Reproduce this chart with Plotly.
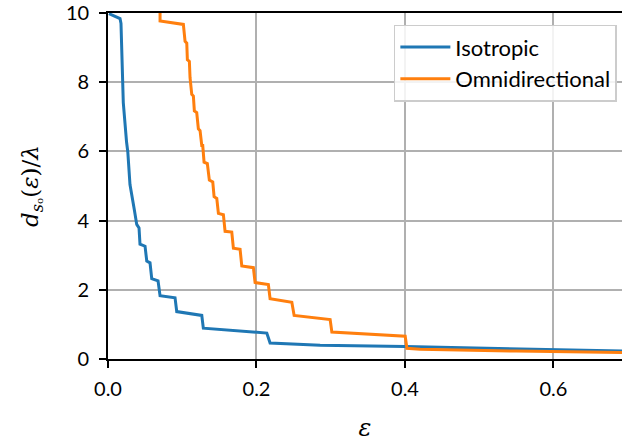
import plotly.graph_objects as go

# Isotropic curve: (epsilon, d/lambda)
iso_eps = [0.0013, 0.0162, 0.0175, 0.0198, 0.0206, 0.0250, 0.0267, 0.0296, 0.0323, 0.0354, 0.0387,
           0.0418, 0.0431, 0.0499, 0.0522, 0.0566, 0.0589, 0.0674, 0.0701, 0.0903, 0.0926,
           0.1263, 0.1284, 0.2139, 0.2183, 0.2857, 0.4000, 0.5000, 0.6000, 0.6930]
iso_val = [9.98, 9.84, 9.70, 7.99, 7.41, 6.27, 5.98, 5.04, 4.75, 4.32, 3.89,
           3.79, 3.32, 3.26, 2.83, 2.78, 2.32, 2.26, 1.83, 1.77, 1.37,
           1.26, 0.89, 0.75, 0.46, 0.40, 0.36, 0.32, 0.28, 0.23]

# Omnidirectional curve: (epsilon, d/lambda)
omni_eps = [0.0701, 0.0701, 0.1015, 0.1038, 0.1061, 0.1069, 0.1096, 0.1105, 0.1128, 0.1150,
            0.1163, 0.1195, 0.1217, 0.1240, 0.1263, 0.1276, 0.1294, 0.1338, 0.1365, 0.1411,
            0.1429, 0.1465, 0.1487, 0.1554, 0.1577, 0.1667, 0.1689, 0.1779, 0.1802, 0.1958,
            0.1981, 0.2160, 0.2183, 0.2476, 0.2507, 0.2992, 0.3015, 0.4003, 0.4026, 0.4205,
            0.5500, 0.6930]
omni_val = [10.40, 9.77, 9.67, 9.18, 9.13, 8.65, 8.60, 8.13, 7.65, 7.60,
            7.17, 7.12, 6.65, 6.60, 6.17, 6.17, 5.69, 5.65, 5.17, 5.12,
            4.69, 4.64, 4.21, 4.17, 3.69, 3.67, 3.20, 3.17, 2.69, 2.64,
            2.21, 2.15, 1.74, 1.64, 1.26, 1.14, 0.78, 0.66, 0.31, 0.28,
            0.23, 0.19]

x_ticks = [0.0, 0.2, 0.4, 0.6]
x_tick_text = ["0.0", "0.2", "0.4", "0.6"]
y_ticks = [0, 2, 4, 6, 8, 10]
y_tick_text = ["0", "2", "4", "6", "8", "10"]

FONT = "Lato"

fig = go.Figure()
fig.add_trace(go.Scatter(x=iso_eps, y=iso_val, mode="lines", name="Isotropic",
                         line=dict(color="#1f77b4", width=3)))
fig.add_trace(go.Scatter(x=omni_eps, y=omni_val, mode="lines", name="Omnidirectional",
                         line=dict(color="#ff7f0e", width=3)))

axis_common = dict(
    showgrid=True, gridcolor="#b0b0b0", gridwidth=1.6,
    showline=True, linecolor="black", linewidth=1.8,
    ticks="outside", ticklen=7, tickwidth=1.6, tickcolor="black",
    tickfont=dict(family=FONT, size=20, color="black"),
    zeroline=False, ticklabeloverflow="allow",
)

fig.update_layout(
    width=622, height=442,
    margin=dict(l=108, r=0, t=10, b=83),
    paper_bgcolor="white", plot_bgcolor="white",
    font=dict(family=FONT, color="black"),
    xaxis=dict(range=[0, 0.6923], tickvals=x_ticks, ticktext=x_tick_text,
               mirror=True, ticklabelstandoff=4,
               title=dict(text="<i>ε</i>", font=dict(family="DejaVu Serif", size=24), standoff=22),
               **axis_common),
    yaxis=dict(range=[0, 10], tickvals=y_ticks, ticktext=y_tick_text,
               ticklabelstandoff=6,
               title=dict(text="<i>d</i><sub><i>s</i>ₒ</sub>(<i>ε</i>)/<i>λ</i>",
                          font=dict(family="DejaVu Serif", size=23), standoff=21),
               **axis_common),
    legend=dict(x=0.99, y=0.966, xanchor="right", yanchor="top",
                bgcolor="rgba(255,255,255,0.85)", bordercolor="#cccccc", borderwidth=1.5,
                font=dict(family=FONT, size=22, color="black"),
                itemwidth=50),
    showlegend=True,
)

fig.write_html("out.html")
